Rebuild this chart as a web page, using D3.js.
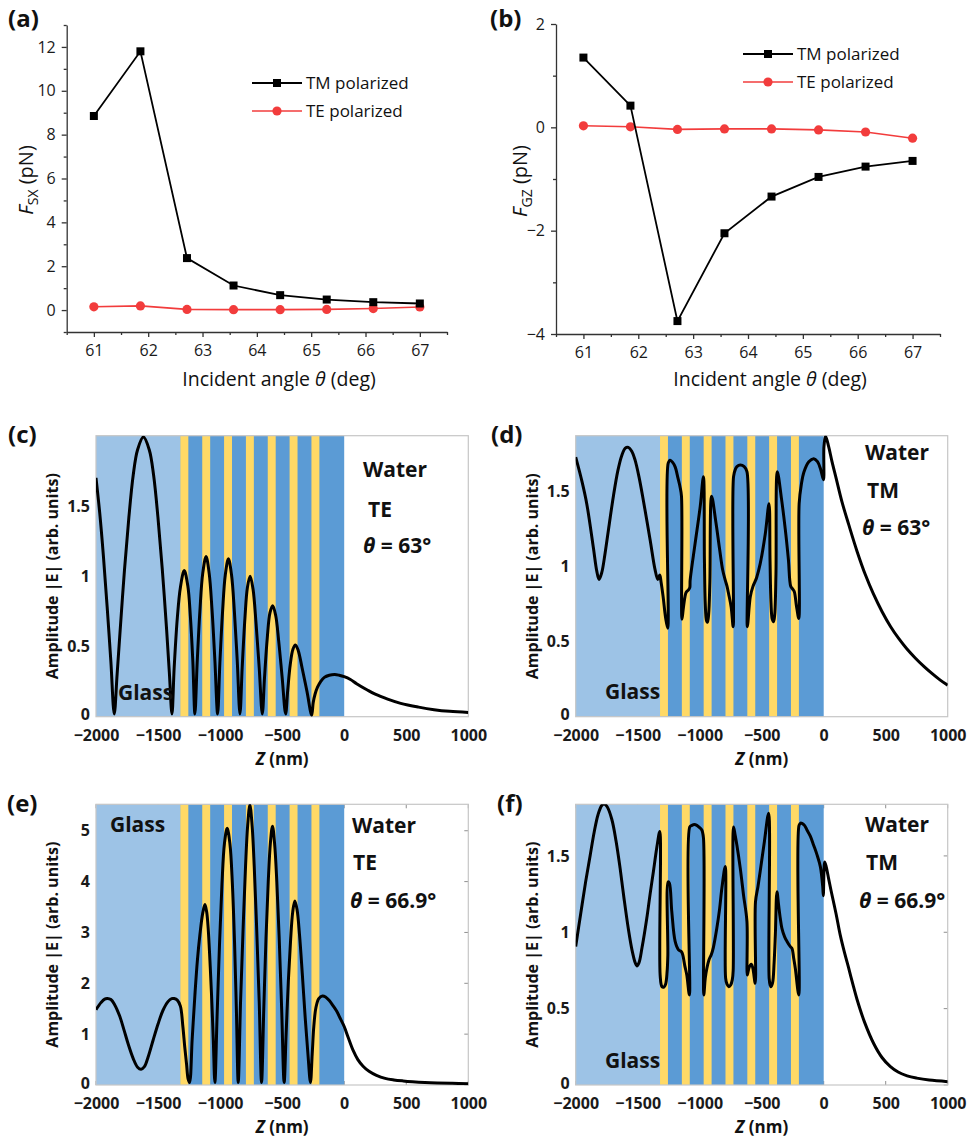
<!DOCTYPE html>
<html>
<head>
<meta charset="utf-8">
<script src="https://cdn.jsdelivr.net/npm/d3@7"></script>
<style>
  body { margin: 0; background: #fff; }
  svg { display: block; }
  text { font-family: 'Open Sans', sans-serif; fill: #111; }
</style>
</head>
<body>
<svg id="fig" width="967" height="1140"></svg>
<script>
'use strict'

// ---- panels (a) and (b): force vs incident angle ----
const angles = [61, 61.857, 62.714, 63.571, 64.429, 65.286, 66.143, 67]
const fsxTM = [8.85, 11.8, 2.37, 1.12, 0.68, 0.48, 0.36, 0.30]
const fsxTE = [0.15, 0.19, 0.03, 0.02, 0.02, 0.03, 0.07, 0.14]
const fgzTM = [1.35, 0.42, -3.75, -2.05, -1.34, -0.96, -0.76, -0.65]
const fgzTE = [0.03, 0.01, -0.04, -0.03, -0.03, -0.05, -0.09, -0.21]
const angleTicks = [61, 62, 63, 64, 65, 66, 67]
const angleMinor = [60.5, 61.5, 62.5, 63.5, 64.5, 65.5, 66.5, 67.5]
const fsxTicks = [0, 2, 4, 6, 8, 10, 12]
const fsxMinor = [-1, 1, 3, 5, 7, 9, 11, 13]
const fgzTicks = [-4, -2, 0, 2]
const fgzMinor = [-3, -1, 1]
const legendNames = ['TM polarized', 'TE polarized']

// ---- panels (c)-(f): field amplitude profiles ----
const zTicks = [-2000, -1500, -1000, -500, 0, 500, 1000]
const ampTicks = [0, 0.5, 1, 1.5]
const ampTicksE = [0, 1, 2, 3, 4, 5]
const glassEnd = -1320
const stackEnd = 0
const yellowLayers = [[-1320, -1256], [-1144, -1080], [-968, -904], [-792, -728],
  [-616, -552], [-440, -376], [-264, -200]]

const profileC = [[-2000, 1.70], [-1970, 1.45], [-1940, 1.14], [-1910, 0.78], [-1880, 0.39], [-1853, 0.02],
  [-1830, 0.30], [-1805, 0.62], [-1770, 1.05], [-1735, 1.42], [-1700, 1.72], [-1665, 1.90], [-1618, 1.99],
  [-1571, 1.90], [-1536, 1.72], [-1501, 1.42], [-1466, 1.05], [-1431, 0.62], [-1408, 0.30], [-1388, 0.02],
  [-1370, 0.35], [-1345, 0.70], [-1320, 0.92], [-1289, 1.04], [-1260, 0.93], [-1240, 0.72], [-1220, 0.40], [-1203, 0.02],
  [-1185, 0.38], [-1163, 0.75], [-1140, 1.02], [-1113, 1.14], [-1088, 1.02], [-1065, 0.76], [-1042, 0.40], [-1020, 0.02],
  [-1002, 0.38], [-980, 0.75], [-958, 1.01], [-933, 1.125], [-908, 1.01], [-885, 0.75], [-862, 0.40], [-840, 0.02],
  [-822, 0.35], [-800, 0.70], [-780, 0.92], [-758, 1.00], [-735, 0.91], [-710, 0.66], [-685, 0.35], [-660, 0.02],
  [-642, 0.28], [-620, 0.56], [-598, 0.74], [-576, 0.79], [-552, 0.72], [-528, 0.54], [-500, 0.28], [-472, 0.02],
  [-455, 0.19], [-435, 0.37], [-413, 0.48], [-393, 0.51], [-370, 0.47], [-340, 0.35], [-300, 0.18], [-262, 0.01],
  [-250, 0.10], [-235, 0.16], [-215, 0.21], [-190, 0.25], [-160, 0.28], [-120, 0.295], [-76, 0.30], [-40, 0.295],
  [0, 0.285], [50, 0.265], [100, 0.235], [186, 0.19], [250, 0.16], [350, 0.125], [455, 0.095], [600, 0.068],
  [724, 0.05], [850, 0.038], [1000, 0.03]]

const profileD = [[-2000, 1.73], [-1950, 1.57], [-1911, 1.42], [-1858, 1.13], [-1830, 0.97], [-1812, 0.915],
  [-1790, 0.96], [-1763, 1.09], [-1730, 1.28], [-1696, 1.47], [-1660, 1.64], [-1629, 1.74], [-1600, 1.79],
  [-1575, 1.795], [-1548, 1.77], [-1521, 1.71], [-1490, 1.60], [-1454, 1.44], [-1400, 1.18], [-1360, 0.98],
  [-1338, 0.915], [-1322, 0.945],
  [-1312, 0.90], [-1295, 0.80], [-1275, 0.66], [-1258, 0.59],
  [-1254, 1.69], [-1238, 1.71], [-1218, 1.695], [-1198, 1.665], [-1175, 1.59], [-1158, 1.53], [-1147, 1.47],
  [-1143, 0.65], [-1131, 0.73], [-1109, 0.83], [-1090, 0.845], [-1080, 0.86],
  [-1077, 0.91], [-1037, 1.155], [-996, 1.40], [-970, 1.60],
  [-962, 1.05], [-955, 0.75], [-945, 0.64], [-937, 0.63], [-928, 0.68], [-918, 0.90], [-904, 1.47],
  [-870, 1.30], [-840, 1.12], [-815, 0.98], [-794, 0.91],
  [-780, 0.87], [-767, 0.82], [-746, 0.73], [-730, 0.60],
  [-727, 1.60], [-712, 1.65], [-700, 1.667], [-673, 1.678], [-641, 1.667], [-619, 1.633],
  [-616, 0.60], [-600, 0.74], [-592, 0.80], [-571, 0.867], [-554, 0.90],
  [-540, 0.93], [-512, 1.02], [-471, 1.22], [-441, 1.42],
  [-433, 1.05], [-425, 0.76], [-415, 0.65], [-404, 0.633], [-395, 0.68], [-385, 0.95], [-374, 1.633],
  [-340, 1.45], [-310, 1.25], [-285, 1.05], [-266, 0.87],
  [-250, 0.85], [-237, 0.833], [-220, 0.74], [-201, 0.655],
  [-198, 1.42], [-180, 1.55], [-160, 1.63], [-120, 1.70], [-80, 1.72], [-50, 1.70], [-25, 1.65], [-2, 1.58],
  [2, 1.80], [15, 1.87], [40, 1.80], [67, 1.70], [100, 1.59], [148, 1.43], [202, 1.28], [270, 1.10],
  [337, 0.944], [400, 0.82], [471, 0.70], [540, 0.60], [606, 0.52], [670, 0.453], [740, 0.39], [810, 0.334],
  [875, 0.287], [940, 0.244], [1000, 0.21]]

const profileE = [[-2000, 1.48], [-1960, 1.62], [-1930, 1.69], [-1908, 1.70], [-1880, 1.68], [-1850, 1.58],
  [-1810, 1.36], [-1774, 1.08], [-1740, 0.80], [-1700, 0.52], [-1665, 0.35], [-1637, 0.31], [-1610, 0.36],
  [-1580, 0.55], [-1540, 0.88], [-1500, 1.20], [-1460, 1.47], [-1420, 1.64], [-1390, 1.70], [-1370, 1.70],
  [-1345, 1.67], [-1320, 1.55],
  [-1300, 1.15], [-1285, 0.75], [-1270, 0.40], [-1258, 0.12], [-1246, 0.05],
  [-1225, 0.9], [-1203, 1.77], [-1183, 2.45], [-1163, 2.95], [-1140, 3.38], [-1122, 3.55], [-1108, 3.4],
  [-1096, 3.08], [-1082, 2.45], [-1069, 1.77], [-1055, 0.9], [-1042, 0.05],
  [-1025, 1.3], [-1005, 2.75], [-985, 3.95], [-965, 4.75], [-943, 5.05], [-921, 4.75], [-901, 3.95],
  [-883, 2.75], [-868, 1.4], [-854, 0.05],
  [-835, 1.65], [-815, 3.05], [-795, 4.3], [-778, 5.1], [-760, 5.51], [-742, 5.1], [-725, 4.3], [-705, 3.05],
  [-685, 1.65], [-666, 0.05],
  [-648, 1.5], [-630, 2.9], [-612, 4.0], [-595, 4.75], [-578, 5.09], [-561, 4.75], [-543, 4.0], [-524, 2.9],
  [-504, 1.5], [-484, 0.05],
  [-468, 1.0], [-450, 2.05], [-432, 2.85], [-415, 3.4], [-398, 3.62], [-380, 3.45], [-360, 2.95], [-338, 2.2],
  [-315, 1.35], [-292, 0.6], [-272, 0.05],
  [-258, 0.6], [-245, 1.15], [-228, 1.52], [-205, 1.70], [-175, 1.75], [-150, 1.73], [-120, 1.66], [-90, 1.56],
  [-60, 1.45], [-30, 1.30], [0, 1.15], [30, 0.95], [72, 0.68], [110, 0.50], [152, 0.37], [200, 0.27],
  [260, 0.19], [330, 0.13], [400, 0.10], [475, 0.08], [550, 0.065], [650, 0.05], [750, 0.04], [870, 0.032],
  [1000, 0.026]]

const profileF = [[-2000, 0.906], [-1960, 1.12], [-1920, 1.33], [-1884, 1.50], [-1850, 1.66], [-1820, 1.77],
  [-1790, 1.83], [-1771, 1.84], [-1745, 1.82], [-1709, 1.74], [-1675, 1.60], [-1642, 1.42], [-1610, 1.22],
  [-1575, 1.02], [-1545, 0.88], [-1520, 0.80], [-1507, 0.78], [-1490, 0.80], [-1465, 0.90], [-1427, 1.09],
  [-1400, 1.25], [-1373, 1.40], [-1345, 1.56], [-1322, 1.66],
  [-1319, 0.72], [-1305, 0.645], [-1290, 0.64], [-1275, 0.66], [-1263, 0.74], [-1257, 0.85],
  [-1255, 1.33], [-1244, 1.32], [-1225, 1.135], [-1198, 0.94], [-1171, 0.885], [-1147, 0.873],
  [-1136, 0.85], [-1120, 0.78], [-1104, 0.72], [-1083, 0.59],
  [-1080, 1.69], [-1063, 1.70], [-1043, 1.705], [-1023, 1.70], [-1000, 1.685], [-983, 1.67], [-970, 1.62],
  [-967, 0.59], [-955, 0.70], [-942, 0.764], [-925, 0.82], [-906, 0.855],
  [-890, 0.90], [-862, 1.026], [-840, 1.15], [-821, 1.29], [-794, 1.43],
  [-791, 0.70], [-780, 0.66], [-765, 0.644], [-750, 0.655], [-737, 0.69], [-730, 0.75],
  [-727, 1.69], [-715, 1.64], [-700, 1.57], [-673, 1.42], [-646, 1.24], [-619, 1.07],
  [-616, 0.72], [-605, 0.76], [-592, 0.785], [-582, 0.79], [-571, 0.763], [-552, 0.666],
  [-550, 1.20], [-530, 1.30], [-512, 1.40], [-479, 1.59], [-444, 1.78],
  [-440, 0.70], [-432, 0.655], [-425, 0.644], [-412, 0.67], [-400, 0.80], [-390, 0.98], [-377, 1.266],
  [-364, 1.18], [-350, 1.09], [-337, 1.026], [-315, 0.97], [-296, 0.94], [-269, 0.906],
  [-256, 0.895], [-242, 0.83], [-229, 0.764], [-201, 0.59],
  [-199, 1.70], [-186, 1.715], [-175, 1.713], [-155, 1.70], [-135, 1.67], [-108, 1.63], [-81, 1.57],
  [-55, 1.51], [-27, 1.43], [-8, 1.30], [-3, 1.24],
  [3, 1.42], [8, 1.46], [20, 1.43], [40, 1.35], [60, 1.27], [100, 1.12], [134, 0.98], [170, 0.86],
  [200, 0.77], [235, 0.66], [269, 0.56], [330, 0.41], [404, 0.27], [470, 0.18], [538, 0.12], [600, 0.085],
  [673, 0.06], [750, 0.045], [850, 0.032], [1000, 0.022]]

const colors = { glass: '#9dc3e6', blue: '#5b9bd5', yellow: '#ffd966', te: '#f23c3c', frame: '#c6c6c6' }

const svg = d3.select('#fig')

// text with mixed italic / subscript parts
function label (x, y, parts, opts) {
  const t = svg.append('text')
    .attr('x', x).attr('y', y)
    .attr('font-size', opts.size)
    .attr('font-weight', opts.bold ? 'bold' : null)
    .attr('text-anchor', opts.anchor || 'start')
  if (opts.rotate) t.attr('transform', `rotate(-90, ${x}, ${y})`)
  parts.forEach(p => {
    t.append('tspan')
      .text(p.t)
      .attr('font-style', p.i ? 'italic' : null)
      .attr('font-size', p.s || null)
      .attr('dy', p.dy || null)
  })
  return t
}

function styleAxis (a, size, bold) {
  a.attr('font-family', 'Open Sans, sans-serif')
    .attr('font-size', size)
    .attr('font-weight', bold ? 'bold' : null)
  a.selectAll('text').style('fill', '#1a1a1a')
}

function forcePanel (o) {
  const x = d3.scaleLinear().domain([60.5, 67.5]).range([o.left, o.right])
  const y = d3.scaleLinear().domain(o.yDomain).range([o.bottom, o.top])
  const g = svg.append('g')

  // minor ticks first, then major axes
  g.append('g').attr('transform', `translate(0,${o.bottom})`)
    .call(d3.axisBottom(x).tickValues(angleMinor).tickSize(3).tickFormat(''))
    .call(a => a.select('.domain').remove())
  g.append('g').attr('transform', `translate(${o.left},0)`)
    .call(d3.axisLeft(y).tickValues(o.yMinor).tickSize(3).tickFormat(''))
    .call(a => a.select('.domain').remove())

  g.append('g').attr('transform', `translate(0,${o.bottom})`)
    .call(d3.axisBottom(x).tickValues(angleTicks).tickSize(5).tickSizeOuter(0).tickPadding(8).tickFormat(d3.format('d')))
    .call(a => styleAxis(a, 16, false))
  g.append('g').attr('transform', `translate(${o.left},0)`)
    .call(d3.axisLeft(y).tickValues(o.yTicks).tickSize(5).tickSizeOuter(0).tickPadding(6).tickFormat(d3.format('d')))
    .call(a => styleAxis(a, 16, false))
  g.selectAll('.domain, .tick line').attr('stroke', '#333').attr('stroke-width', 1.3)

  const line = d3.line().x((d, i) => x(angles[i])).y(d => y(d))
  const series = [
    { vals: o.tm, color: '#000', width: 1.8, shape: 'square' },
    { vals: o.te, color: colors.te, width: 1.6, shape: 'circle' }
  ]
  series.slice().reverse().forEach(s => {
    g.append('path').datum(s.vals).attr('d', line)
      .attr('fill', 'none').attr('stroke', s.color).attr('stroke-width', s.width)
    if (s.shape === 'square') {
      g.selectAll(null).data(s.vals).join('rect')
        .attr('x', (d, i) => x(angles[i]) - 4).attr('y', d => y(d) - 4)
        .attr('width', 8).attr('height', 8).attr('fill', s.color)
    } else {
      g.selectAll(null).data(s.vals).join('circle')
        .attr('cx', (d, i) => x(angles[i])).attr('cy', d => y(d))
        .attr('r', 4.6).attr('fill', s.color)
    }
  })

  // legend
  series.forEach((s, i) => {
    const ly = o.legendY + i * 28
    g.append('line').attr('x1', o.legendX).attr('x2', o.legendX + 50)
      .attr('y1', ly).attr('y2', ly).attr('stroke', s.color).attr('stroke-width', s.width)
    if (s.shape === 'square') {
      g.append('rect').attr('x', o.legendX + 21).attr('y', ly - 4).attr('width', 8).attr('height', 8).attr('fill', s.color)
    } else {
      g.append('circle').attr('cx', o.legendX + 25).attr('cy', ly).attr('r', 4.6).attr('fill', s.color)
    }
    g.append('text').attr('x', o.legendX + 54).attr('y', ly + 6)
      .attr('font-size', 17).text(legendNames[i])
  })
}

function profilePanel (o) {
  const x = d3.scaleLinear().domain([-2000, 1000]).range([o.left, o.right])
  const y = d3.scaleLinear().domain([0, o.yMax]).range([o.bottom, o.top])
  const g = svg.append('g')

  // inward ticks; the coloured layers drawn afterwards hide them except over water
  if (o.innerTicks) {
    const t = g.append('g').attr('stroke', '#8f8f8f').attr('stroke-width', 1)
    t.selectAll(null).data(zTicks).join('line')
      .attr('x1', d => x(d)).attr('x2', d => x(d)).attr('y1', o.bottom).attr('y2', o.bottom - 4)
    t.selectAll(null).data(zTicks).join('line')
      .attr('x1', d => x(d)).attr('x2', d => x(d)).attr('y1', o.top).attr('y2', o.top + 4)
    t.selectAll(null).data(o.yTicks).join('line')
      .attr('x1', o.right).attr('x2', o.right - 4).attr('y1', d => y(d)).attr('y2', d => y(d))
  }

  g.append('rect')
    .attr('x', x(-2000)).attr('y', o.top)
    .attr('width', x(glassEnd) - x(-2000)).attr('height', o.bottom - o.top)
    .attr('fill', colors.glass)
  g.append('rect')
    .attr('x', x(glassEnd)).attr('y', o.top)
    .attr('width', x(stackEnd) - x(glassEnd)).attr('height', o.bottom - o.top)
    .attr('fill', colors.blue)
  g.selectAll(null).data(yellowLayers).join('rect')
    .attr('x', d => x(d[0])).attr('y', o.top)
    .attr('width', d => x(d[1]) - x(d[0])).attr('height', o.bottom - o.top)
    .attr('fill', colors.yellow)
  g.append('rect')
    .attr('x', o.left).attr('y', o.top)
    .attr('width', o.right - o.left).attr('height', o.bottom - o.top)
    .attr('fill', 'none').attr('stroke', colors.frame).attr('stroke-width', 1.2)

  g.append('clipPath').attr('id', 'clip-' + o.id)
    .append('rect').attr('x', o.left).attr('y', o.top)
    .attr('width', o.right - o.left).attr('height', o.bottom - o.top)

  const line = d3.line().x(d => x(d[0])).y(d => y(d[1])).curve(d3.curveCatmullRom.alpha(0.5))
  g.append('path').datum(o.profile).attr('d', line)
    .attr('clip-path', `url(#clip-${o.id})`)
    .attr('fill', 'none').attr('stroke', '#000').attr('stroke-width', 3)
    .attr('stroke-linejoin', 'round')

  g.append('g').attr('transform', `translate(0,${o.bottom})`)
    .call(d3.axisBottom(x).tickValues(zTicks).tickSize(0).tickPadding(13).tickFormat(d3.format('d')))
    .call(a => a.select('.domain').remove())
    .call(a => styleAxis(a, 16, true))
  g.append('g').attr('transform', `translate(${o.left},0)`)
    .call(d3.axisLeft(y).tickValues(o.yTicks).tickSize(0).tickPadding(6).tickFormat(d => String(d)))
    .call(a => a.select('.domain').remove())
    .call(a => styleAxis(a, 16, true))
    // lift the bottom "0" a little so it clears the first z label
    .call(a => a.selectAll('.tick').filter(d => d === 0).select('text').attr('dy', '0.2em'))

  const cx = (o.left + o.right) / 2
  label(cx, o.bottom + 48, [{ t: 'Z', i: true }, { t: ' (nm)' }], { size: 17, bold: true, anchor: 'middle' })
  label(o.left - 38, (o.top + o.bottom) / 2, [{ t: 'Amplitude |E| (arb. units)' }],
    { size: 16, bold: true, anchor: 'middle', rotate: true })
  label(o.letter[0], o.letter[1], [{ t: o.letter[2] }], { size: 24, bold: true })
  o.notes.forEach(n => label(n.x, n.y, n.parts, { size: 21, bold: true }))
}

// (a)
forcePanel({ left: 66.7, right: 447, top: 25, bottom: 332, yDomain: [-1, 13], yTicks: fsxTicks, yMinor: fsxMinor,
  tm: fsxTM, te: fsxTE, legendX: 252, legendY: 83 })
label(8, 27, [{ t: '(a)' }], { size: 24, bold: true })
label(279, 386, [{ t: 'Incident angle ' }, { t: 'θ', i: true }, { t: ' (deg)' }], { size: 19.5, anchor: 'middle' })
label(33, 180, [{ t: 'F', i: true }, { t: 'SX', s: 14, dy: 5 }, { t: '  (pN)', dy: -5 }], { size: 20, anchor: 'middle', rotate: true })

// (b)
forcePanel({ left: 556, right: 940, top: 24, bottom: 334, yDomain: [-4, 2], yTicks: fgzTicks, yMinor: fgzMinor,
  tm: fgzTM, te: fgzTE, legendX: 743, legendY: 54 })
label(490, 27, [{ t: '(b)' }], { size: 24, bold: true })
label(770, 386, [{ t: 'Incident angle ' }, { t: 'θ', i: true }, { t: ' (deg)' }], { size: 19.5, anchor: 'middle' })
label(527, 181, [{ t: 'F', i: true }, { t: 'GZ', s: 14, dy: 5 }, { t: ' (pN)', dy: -5 }], { size: 20, anchor: 'middle', rotate: true })

// (c)-(f)
profilePanel({ id: 'c', left: 96, right: 468.3, top: 435.7, bottom: 716.7, yMax: 2.0, yTicks: ampTicks,
  profile: profileC, letter: [8, 443, '(c)'],
  notes: [{ x: 363, y: 477, parts: [{ t: 'Water' }] }, { x: 368, y: 517, parts: [{ t: 'TE' }] },
    { x: 363, y: 553, parts: [{ t: 'θ', i: true }, { t: ' = 63°' }] },
    { x: 118, y: 700, parts: [{ t: 'Glass' }] }] })
profilePanel({ id: 'd', left: 575.7, right: 947.7, top: 435.7, bottom: 716.7, yMax: 1.873, yTicks: ampTicks,
  profile: profileD, letter: [491, 443, '(d)'],
  notes: [{ x: 865, y: 460, parts: [{ t: 'Water' }] }, { x: 867, y: 498, parts: [{ t: 'TM' }] },
    { x: 862, y: 535, parts: [{ t: 'θ', i: true }, { t: ' = 63°' }] },
    { x: 605, y: 699, parts: [{ t: 'Glass' }] }] })
profilePanel({ id: 'e', left: 96, right: 468.3, top: 804.3, bottom: 1085, yMax: 5.52, yTicks: ampTicksE,
  profile: profileE, letter: [7, 812, '(e)'], innerTicks: true,
  notes: [{ x: 110, y: 832, parts: [{ t: 'Glass' }] }, { x: 352, y: 833, parts: [{ t: 'Water' }] },
    { x: 353, y: 870, parts: [{ t: 'TE' }] },
    { x: 350, y: 908, parts: [{ t: 'θ', i: true }, { t: ' = 66.9°' }] }] })
profilePanel({ id: 'f', left: 575.7, right: 947.7, top: 804.3, bottom: 1085, yMax: 1.838, yTicks: ampTicks,
  profile: profileF, letter: [497, 812, '(f)'], innerTicks: true,
  notes: [{ x: 865, y: 832, parts: [{ t: 'Water' }] }, { x: 866, y: 870, parts: [{ t: 'TM' }] },
    { x: 859, y: 908, parts: [{ t: 'θ', i: true }, { t: ' = 66.9°' }] },
    { x: 605, y: 1068, parts: [{ t: 'Glass' }] }] })
</script>
</body>
</html>
